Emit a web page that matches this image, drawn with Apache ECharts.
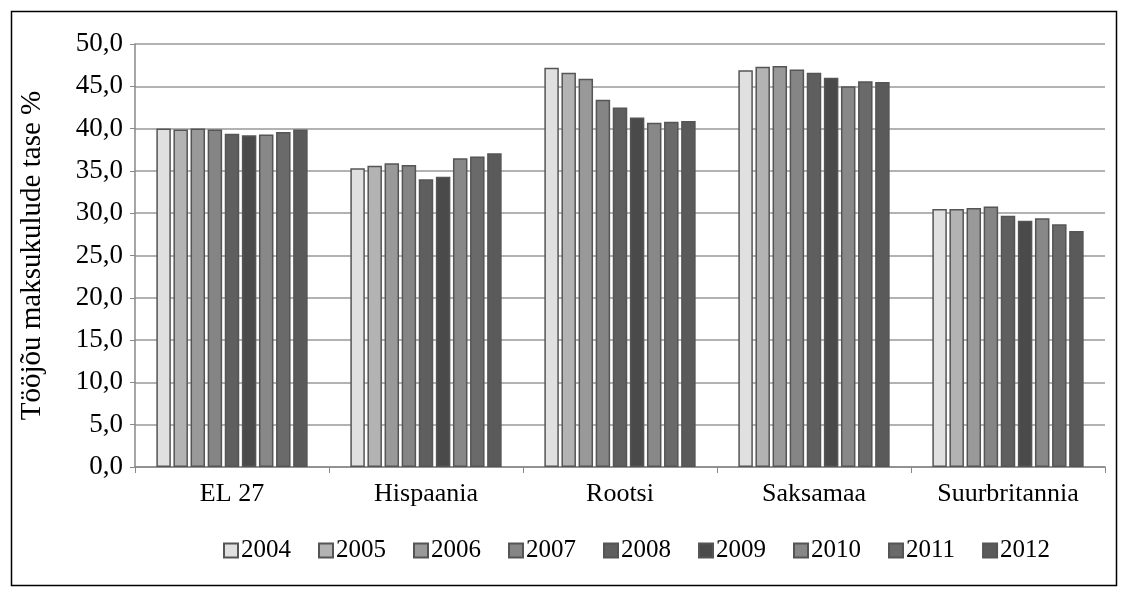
<!DOCTYPE html>
<html><head><meta charset="utf-8">
<script src="https://cdn.jsdelivr.net/npm/echarts@6/dist/echarts.min.js"></script>
<style>html,body{margin:0;padding:0;background:#fff}#main{width:1124px;height:592px}</style>
</head><body><div id="main"></div>
<script>
var categories = ['EL 27', 'Hispaania', 'Rootsi', 'Saksamaa', 'Suurbritannia'];
var years = ['2004', '2005', '2006', '2007', '2008', '2009', '2010', '2011', '2012'];
var colors = ['#e0e0e0', '#b3b3b3', '#999999', '#858585', '#5f5f5f', '#4a4a4a', '#888888', '#6a6a6a', '#5a5a5a'];
// values per year, one number per country
var v2004 = [40.0, 35.3, 47.2, 46.9, 30.5];
var v2005 = [39.9, 35.6, 46.6, 47.3, 30.5];
var v2006 = [40.0, 35.9, 45.9, 47.4, 30.6];
var v2007 = [39.9, 35.7, 43.4, 47.0, 30.8];
var v2008 = [39.4, 34.0, 42.5, 46.6, 29.7];
var v2009 = [39.2, 34.3, 41.3, 46.0, 29.1];
var v2010 = [39.3, 36.5, 40.7, 45.0, 29.4];
var v2011 = [39.6, 36.7, 40.8, 45.6, 28.7];
var v2012 = [39.9, 37.1, 40.9, 45.5, 27.9];
var values = [v2004, v2005, v2006, v2007, v2008, v2009, v2010, v2011, v2012];

var font = 'Liberation Serif';
var series = [];
for (var i = 0; i < years.length; i++) {
    series.push({
        name: years[i], type: 'bar', data: values[i],
        barGap: '18%', barCategoryGap: '22%',
        itemStyle: {color: colors[i], borderColor: '#555', borderWidth: 1.5}
    });
}
var chart = echarts.init(document.getElementById('main'));
chart.setOption({
    animation: false,
    textStyle: {fontFamily: font},
    graphic: [{type: 'rect', left: 9, top: 9, shape: {width: 1105, height: 574}, style: {fill: 'none', stroke: '#000', lineWidth: 1.5}, silent: true}],
    grid: {left: 135, right: 19, top: 44, bottom: 125},
    legend: {
        data: years, bottom: 24, left: 218, itemWidth: 14, itemHeight: 14, itemGap: 27,
        icon: 'rect',
        textStyle: {fontSize: 25, fontFamily: font, color: '#000', padding: [0, 0, 0, -2]}
    },
    xAxis: {
        type: 'category', data: categories,
        axisLine: {lineStyle: {color: '#888', width: 1.5}}, axisTick: {show: true, length: 6, lineStyle: {color: '#888'}},
        axisLabel: {fontSize: 26, color: '#000', fontFamily: font, margin: 14}
    },
    yAxis: {
        type: 'value', min: 0, max: 50, interval: 5,
        name: 'Tööjõu maksukulude tase %', nameLocation: 'middle', nameGap: 88,
        nameTextStyle: {fontSize: 29, color: '#000', fontFamily: font},
        axisLine: {show: true, lineStyle: {color: '#888', width: 1.5}}, axisTick: {show: true, lineStyle: {color: '#888'}},
        splitLine: {lineStyle: {color: '#999', width: 1.5}},
        axisLabel: {fontSize: 27, color: '#000', fontFamily: font, margin: 12,
            formatter: function (v) { return v.toFixed(1).replace('.', ','); }}
    },
    series: series
});
</script></body></html>
